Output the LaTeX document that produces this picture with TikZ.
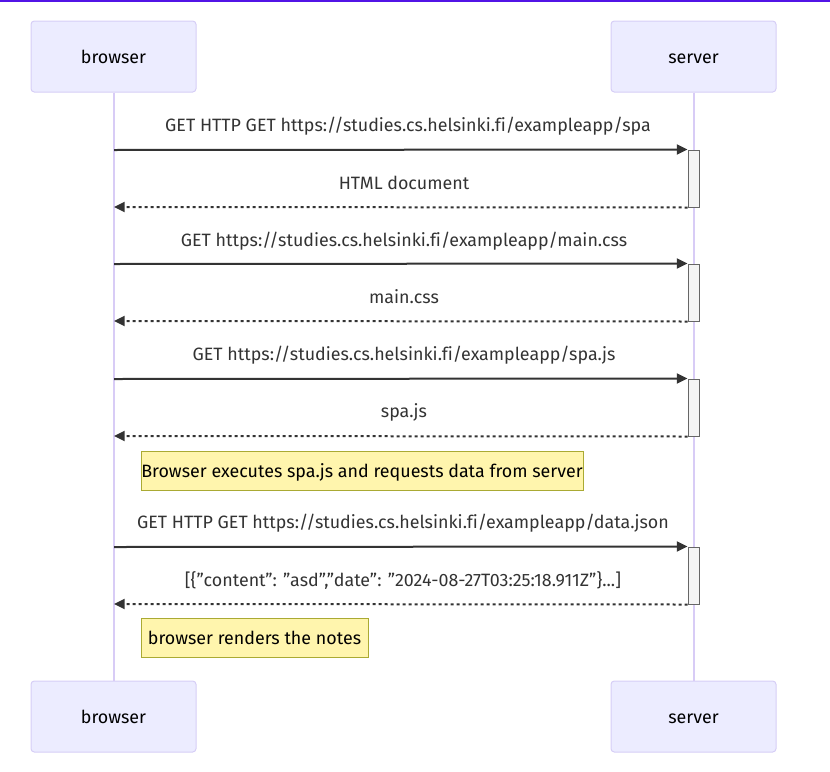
\documentclass[tikz,border=0pt]{standalone}
\usepackage{fontspec}
\setmainfont{Fira Sans}[Ligatures=NoCommon]
\usetikzlibrary{arrows.meta}
\definecolor{actfill}{HTML}{ECECFF}
\definecolor{actline}{HTML}{D6CEF6}
\definecolor{lifec}{HTML}{D8CCF6}
\definecolor{ink}{HTML}{333333}
\definecolor{notefill}{HTML}{FFF5AD}
\definecolor{noteline}{HTML}{AAAA33}
\definecolor{barfill}{HTML}{F4F4F4}
\definecolor{barline}{HTML}{666666}
\definecolor{topline}{HTML}{5214E6}
\begin{document}
\begin{tikzpicture}[x=0.75pt,y=-0.75pt,
  txt/.style={font=\fontsize{13.4}{15}\selectfont,text height=11pt,text depth=1pt},
  actor/.style={txt,draw=actline,fill=actfill,line width=0.75pt,rounded corners=2.5pt,
    minimum width=123.75pt,minimum height=53.25pt,inner sep=0pt,text=black},
  life/.style={draw=lifec,line width=1.5pt},
  actbar/.style={draw=barline,fill=barfill,line width=0.75pt,minimum width=8.25pt,inner sep=0pt},
  msg/.style={draw=ink,line width=1.5pt,-{Triangle[length=8pt,width=7.5pt]}},
  ret/.style={msg,dash pattern=on 2.25pt off 2.25pt},
  lbl/.style={txt,text=ink,inner sep=0pt},
  note/.style={txt,draw=noteline,fill=notefill,line width=0.75pt,minimum height=29.25pt,inner sep=0pt,
    text=black},
]
\useasboundingbox (0,0) rectangle (830,771);
\fill[topline] (0,0) rectangle (830,2);
% actors
\node[actor] (b1) at (113.5,56.5) {browser};
\node[actor] (s1) at (693.5,56.5) {server};
\node[actor] (b2) at (113.5,716.5) {browser};
\node[actor] (s2) at (693.5,716.5) {server};
\draw[life] (b1.south) -- (b2.north);
\draw[life] (s1.south) -- (s2.north);
% activation bars
\node[actbar,minimum height=42.75pt] (a1) at (693.5,178.5) {};
\node[actbar,minimum height=42.75pt] (a2) at (693.5,292.5) {};
\node[actbar,minimum height=42.75pt] (a3) at (693.5,407.5) {};
\node[actbar,minimum height=42.75pt] (a4) at (693.5,575.5) {};
% points on browser lifeline
\coordinate (m1) at (114,150);
\coordinate (r1) at (114,207);
\coordinate (m2) at (114,264);
\coordinate (r2) at (114,321);
\coordinate (m3) at (114,379);
\coordinate (r3) at (114,436);
\coordinate (m4) at (114,547);
\coordinate (r4) at (114,604);
% messages
\draw[msg] (m1) -- (a1.north west);
\draw[ret] (a1.south west) -- (r1);
\draw[msg] (m2) -- (a2.north west);
\draw[ret] (a2.south west) -- (r2);
\draw[msg] (m3) -- (a3.north west);
\draw[ret] (a3.south west) -- (r3);
\draw[msg] (m4) -- (a4.north west);
\draw[ret] (a4.south west) -- (r4);
% labels
\node[lbl] (l1) at (408,125) {GET HTTP GET https://studies.cs.helsinki.fi/exampleapp/spa};
\node[lbl] (l2) at (404,183) {HTML document};
\node[lbl] (l3) at (404,240) {GET https://studies.cs.helsinki.fi/exampleapp/main.css};
\node[lbl] (l4) at (404,297) {main.css};
\node[lbl] (l5) at (404,354) {GET https://studies.cs.helsinki.fi/exampleapp/spa.js};
\node[lbl] (l6) at (404,411) {spa.js};
\node[lbl] (l7) at (403,522) {GET HTTP GET https://studies.cs.helsinki.fi/exampleapp/data.json};
\node[lbl] (l8) at (403,580) {[\{"content": "asd","date": "2024-08-27T03:25:18.911Z"\}...]};
% notes
\node[note,minimum width=331.5pt] (n1) at (362,470.5) {Browser executes spa.js and requests data from server};
\node[note,minimum width=170.25pt] (n2) at (254.5,638) {browser renders the notes};
\end{tikzpicture}
\end{document}
